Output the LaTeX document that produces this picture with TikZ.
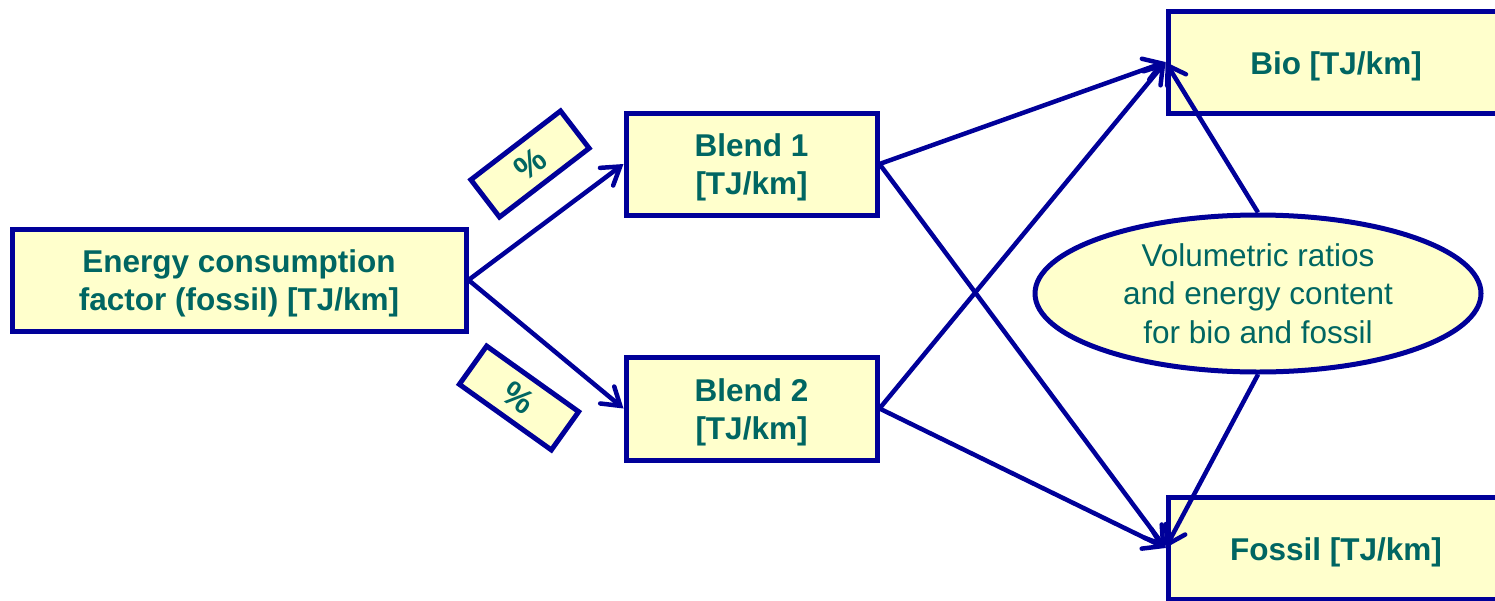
\documentclass[tikz,border=0pt]{standalone}
\usepackage{fontspec}
\setmainfont{Liberation Sans}
\usetikzlibrary{arrows.meta,shapes.geometric}
\definecolor{boxfill}{HTML}{FFFFCC}
\definecolor{boxline}{HTML}{000099}
\definecolor{txt}{HTML}{006662}
\begin{document}
\begin{tikzpicture}[x=1pt,y=-1pt,
  box/.style={draw=boxline,fill=boxfill,line width=5pt,inner sep=0pt},
  boxtext/.style={inner sep=0pt,text=txt,align=center,
    font=\fontsize{31.5}{38}\selectfont\bfseries},
  pct/.style={draw=boxline,fill=boxfill,line width=5pt,inner sep=0pt,
    minimum width=113pt,minimum height=47pt,text=txt,
    font=\fontsize{34}{36}\selectfont\bfseries},
  oval/.style={ellipse,draw=boxline,fill=boxfill,line width=5pt,inner sep=0pt,
    minimum width=446pt,minimum height=157pt,text=txt,align=center,
    font=\fontsize{31.5}{38.5}\selectfont},
  conn/.style={draw=boxline,line width=4.5pt,
    -{Straight Barb[length=17pt,width=22pt,line cap=round]}}
]
\useasboundingbox (0,0) rectangle (1495,600);
\node[box,minimum width=454pt,minimum height=102pt] (energy) at (239,280) {};
\node[boxtext] (energyT) at ([yshift=-3.5pt]energy.center)
  {Energy consumption\\factor (fossil) [TJ/km]};
\node[box,minimum width=251pt,minimum height=102pt] (blend1) at (751.5,164) {};
\node[boxtext] (blend1T) at ([yshift=-3.5pt]blend1.center) {Blend 1\\{}[TJ/km]};
\node[box,minimum width=251pt,minimum height=103pt] (blend2) at (751.5,408.5) {};
\node[boxtext] (blend2T) at ([yshift=-3.5pt]blend2.center) {Blend 2\\{}[TJ/km]};
\node[box,minimum width=336pt,minimum height=102pt] (bio) at (1336,62) {};
\node[boxtext] (bioT) at ([yshift=-4.5pt]bio.center) {Bio [TJ/km]};
\node[box,minimum width=336pt,minimum height=102pt] (fossil) at (1336,548) {};
\node[boxtext] (fossilT) at ([yshift=-4pt]fossil.center) {Fossil [TJ/km]};
\node[oval] (ratio) at (1258,293.5)
  {Volumetric ratios\\and energy content\\for bio and fossil};
\node[pct,rotate=37.5] (p1) at (530,164) {\%};
\node[pct,rotate=-35.5] (p2) at (519,398) {\%};

\draw[conn] (energy.east) -- (blend1.west);
\draw[conn] (energy.east) -- (blend2.west);
\draw[conn] (blend1.east) -- (bio.west);
\draw[conn] (blend1.east) -- (fossil.west);
\draw[conn] (blend2.east) -- (bio.west);
\draw[conn] (blend2.east) -- (fossil.west);
\draw[conn] (ratio.north) -- (bio.west);
\draw[conn] (ratio.south) -- (fossil.west);
\end{tikzpicture}
\end{document}
